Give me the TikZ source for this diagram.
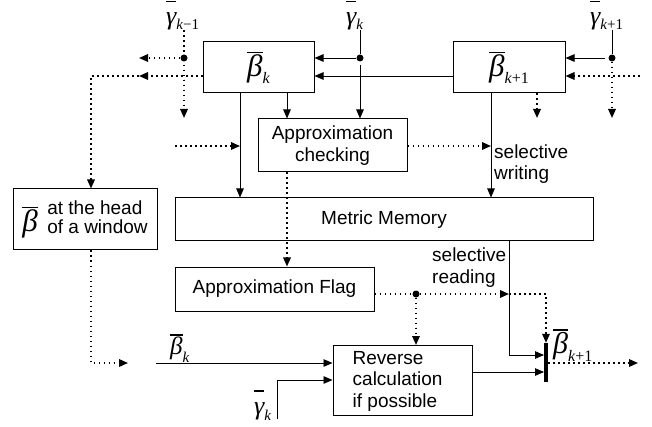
\documentclass[tikz,border=0pt]{standalone}
\usepackage{fontspec}
\setmainfont{Liberation Sans}
\newfontfamily\tms{Liberation Serif}
\usetikzlibrary{arrows.meta}
\newsavebox\symbox
% #1 size, #2 glyph, #3 sub size, #4 sub text, #5 sub drop, #6 bar height (em)
\newcommand\symb[6]{{\tms\itshape\fontsize{#1}{#1}\selectfont
  \sbox\symbox{#2}%
  \rlap{\rule[#6em]{\wd\symbox}{1.2pt}}\usebox\symbox
  \raisebox{-#5}{\fontsize{#3}{#3}\selectfont #4}}}
\begin{document}
\begin{tikzpicture}[x=1pt,y=-1pt,
  box/.style={draw,line width=1pt,inner sep=0pt,align=center,font=\fontsize{19}{21.5}\selectfont},
  ln/.style={line width=0.9pt},
  arr/.style={ln,-{Triangle[length=9pt,width=7.5pt]}},
  dotl/.style={line width=1.6pt,dash pattern=on 1.6pt off 3.4pt},
  darr/.style={dotl,-{Triangle[length=9pt,width=7.5pt]}},
  jdot/.style={circle,fill,inner sep=0pt,minimum size=7pt},
  txt/.style={font=\fontsize{19}{21.5}\selectfont,inner sep=0pt,align=left},
  lab/.style={inner sep=0pt}]
\useasboundingbox (0,0) rectangle (652,427);
% boxes
\node[box,minimum width=111pt,minimum height=51pt] (bk) at (258.5,67.5) {\symb{31}{β}{16}{k}{7pt}{0.76}};
\node[box,minimum width=112pt,minimum height=51pt] (bk1) at (509,67.5) {\symb{31}{β}{16}{k\upshape+1}{7pt}{0.76}};
\node[box,minimum width=149pt,minimum height=53pt] (chk) at (332.5,145.5) {Approximation\\checking};
\node[box,minimum width=418pt,minimum height=43pt] (mem) at (384,219.5) {Metric Memory};
\node[box,minimum width=144pt,minimum height=61pt] (head) at (85,219.5)
  {\symb{31}{β}{10}{}{0pt}{0.76}\hspace{9.5pt}\raisebox{-2pt}{\renewcommand\arraystretch{0.72}\begin{tabular}[b]{@{}l@{}}at the head\\of a window\end{tabular}}};
\node[box,minimum width=199pt,minimum height=44pt] (flag) at (274.5,289) {Approximation Flag};
\node[box,minimum width=139pt,minimum height=70pt] (rev) at (402.5,380.5) {};
\node[txt,anchor=west] (revt) at (352.5,381) {Reverse\\calculation\\if possible};
\node[fill,inner sep=0pt,minimum width=3.5pt,minimum height=39pt] (bar) at (546,362.5) {};
\node[txt,anchor=west] (sw) at (494,164) {selective\\writing};
\node[txt,anchor=west] (sr) at (432,267.5) {selective\\reading};
% labels
\node[lab,anchor=base west] (g1) at (166,24.3) {\symb{26}{γ}{15}{k\upshape−1}{5pt}{0.86}};
\node[lab,anchor=base west] (g2) at (346,24.3) {\symb{26}{γ}{15}{k}{5pt}{0.86}};
\node[lab,anchor=base west] (g3) at (590,24.3) {\symb{26}{γ}{15}{k\upshape+1}{5pt}{0.86}};
\node[lab,anchor=base west] (bkl) at (170,354.5) {\symb{25}{β}{15}{k}{8pt}{0.76}};
\node[lab,anchor=base west] (gkl) at (254,414) {\symb{26}{γ}{15}{k}{6pt}{0.86}};
\node[lab,anchor=base west] (bk1l) at (553,353.4) {\symb{30}{β}{16}{k\upshape+1}{8pt}{0.76}};
% junctions
\node[jdot] (d1) at (184,58) {};
\node[jdot] (d2) at (360,58) {};
\node[jdot] (d3) at (612,58) {};
\node[jdot] (d4) at (416,294) {};
% free ends
\coordinate (c1) at (184,118);
\coordinate (c2) at (139,58);
\coordinate (c3) at (139,76);
\coordinate (c4) at (91,76);
\coordinate (c5) at (175,146);
\coordinate (c6) at (240,146);
\coordinate (c7) at (287,146);
\coordinate (c8) at (491,146);
\coordinate (c9) at (537,118);
\coordinate (c10) at (612,118);
\coordinate (c11) at (640,76);
\coordinate (c12) at (509,294);
\coordinate (c13) at (509,355);
\coordinate (c14) at (0,372);
\coordinate (c15) at (638,363);
\coordinate (c16) at (91,363);
\coordinate (c17) at (128,363);
\coordinate (c18) at (156,363);
\coordinate (c19) at (277,419);
\coordinate (c20) at (277,380);
% connectors
\draw[arr,shorten <=3pt] (g2.south -| d2) -- (d2) -- (chk.north -| d2);
\draw[arr] (d2) -- (bk.east |- d2);
\draw[arr] (bk1.west |- c3) -- (bk.east |- c3);
\draw[arr,shorten <=3pt] (g3.south -| d3) -- (d3) -- (bk1.east |- d3);
\draw[darr] (d3) -- (c10);
\draw[darr] (c11) -- (bk1.east |- c11);
\draw[darr] (bk1.south -| c9) -- (c9);
\draw[arr] (bk1.south -| c8) -- (mem.north -| c8);
\draw[darr] (chk.east |- c8) -- (c8);
\draw[arr] (bk.south -| c6) -- (mem.north -| c6);
\draw[arr] (bk.south -| c7) -- (chk.north -| c7);
\draw[darr] (c5) -- (c6);
\draw[darr,shorten <=3pt] (g1.south -| d1) -- (d1) -- (c1);
\draw[darr] (d1) -- (c2);
\draw[darr] (bk.west |- c3) -- (c3);
\draw[darr] (c3) -- (c4) -- (head.north -| c4);
\draw[darr] (chk.south -| c7) -- (flag.north -| c7);
\draw[darr] (flag.east |- d4) -- (d4) -- (c12);
\draw[darr] (c12) -- (bar.north |- c12) -- (bar.north);
\draw[darr] (d4) -- (rev.north -| d4);
\draw[arr] (mem.south -| c12) -- (c13) -- (bar.west |- c13);
\draw[arr] (rev.east |- c14) -- (bar.west |- c14);
\draw[darr] (bar.east |- c15) -- (c15);
\draw[darr] (head.south -| c16) -- (c16) -- (c17);
\draw[arr] (c18) -- (rev.west |- c18);
\draw[arr] (c19) -- (c20) -- (rev.west |- c20);
\end{tikzpicture}
\end{document}
